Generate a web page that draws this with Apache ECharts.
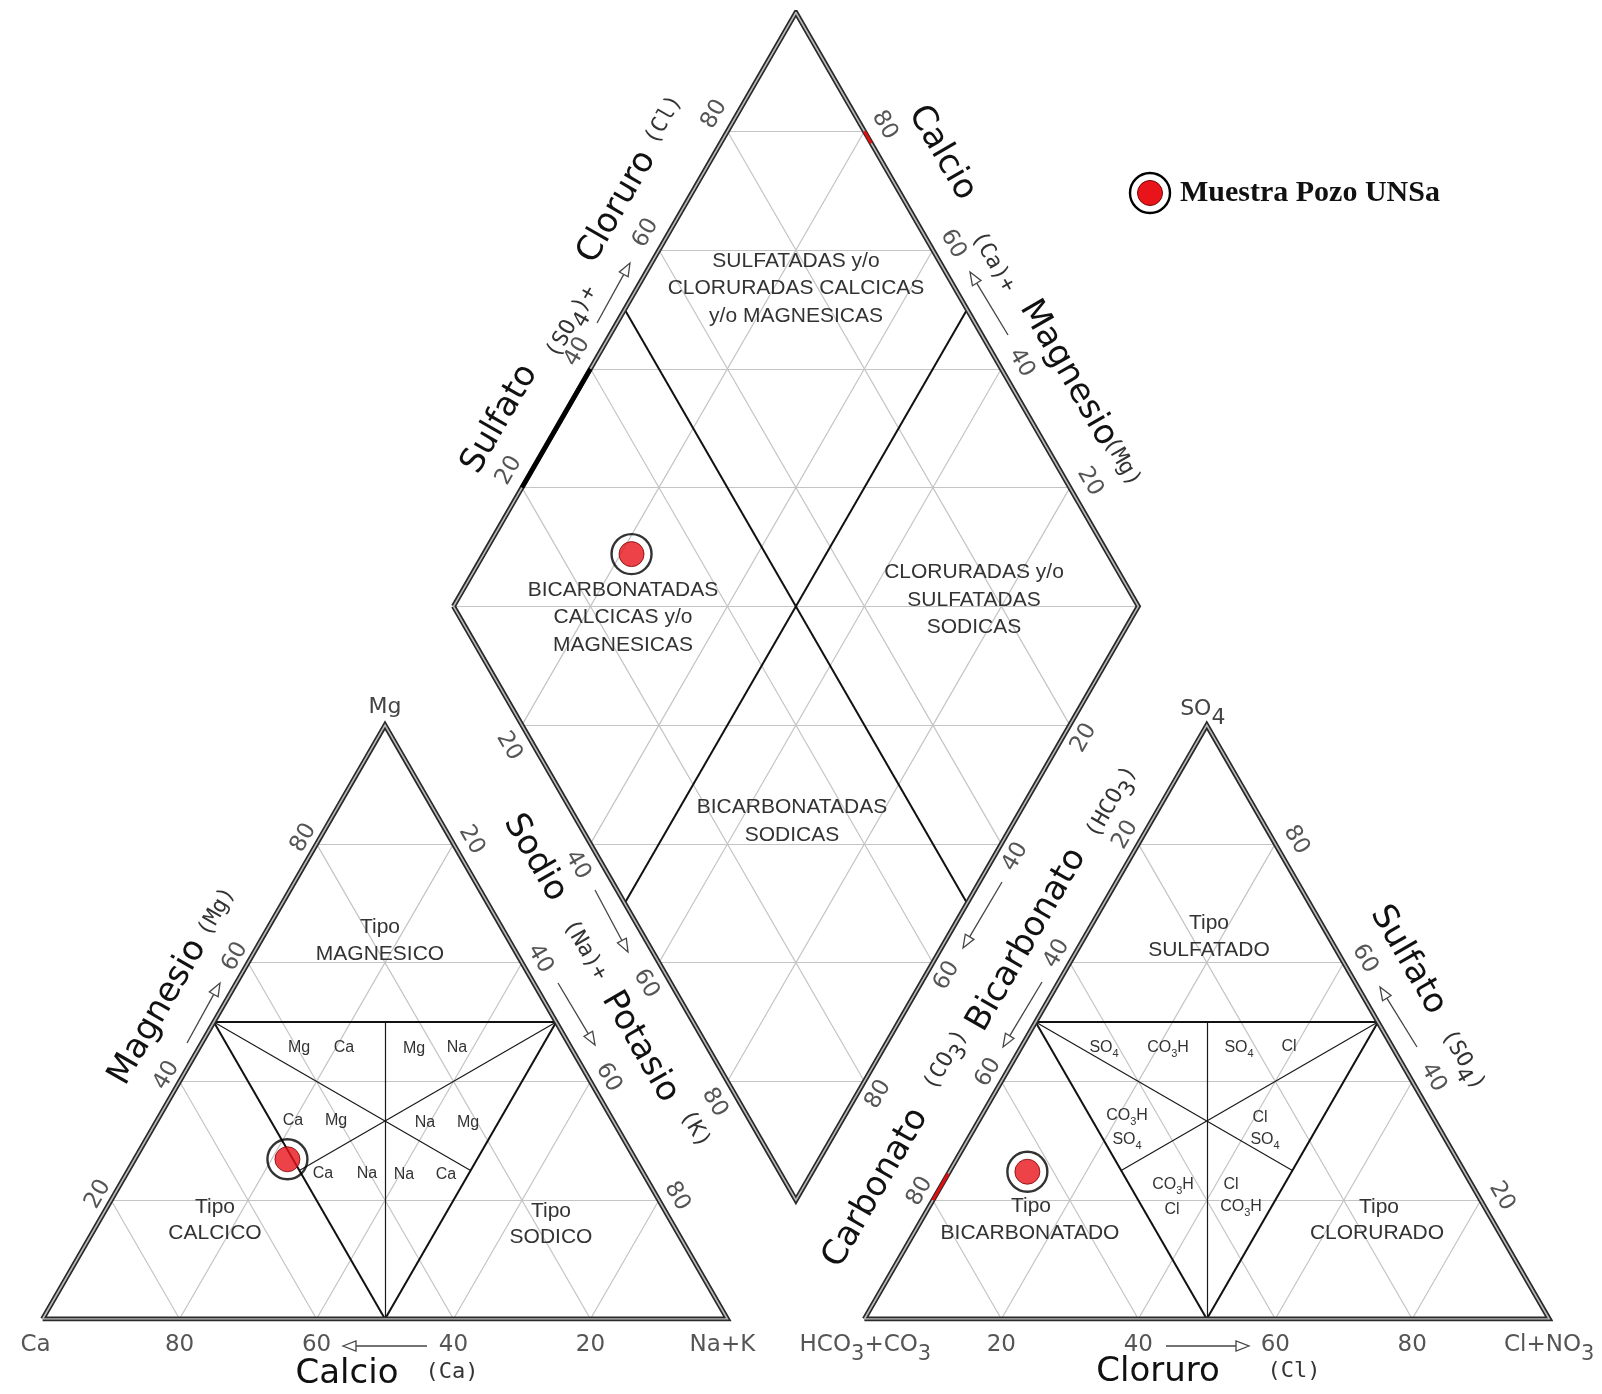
<!DOCTYPE html>
<html>
<head>
<meta charset="utf-8">
<script src="https://cdn.jsdelivr.net/npm/echarts@6/dist/echarts.min.js"></script>
<style>
  html, body { margin: 0; padding: 0; background: #fff; }
  #main { width: 1602px; height: 1394px; }
</style>
</head>
<body>
<div id="main"></div>
<script>
// ---- values ----
var gridTicks = [20, 40, 60, 80];                  // % grid lines in every field
var diamondRows = [-80, -60, -40, -20, 0, 20, 40, 60, 80]; // horizontal rows in the diamond (SO4+Cl - Na+K)
var edgeTicks = [20, 40, 60, 80];
var baseLeft = ['Ca', '80', '60', '40', '20', 'Na+K'];
var baseRight = ['HCO_3+CO_3', '20', '40', '60', '80', 'Cl+NO_3'];

var cationSample = [50.8, 26.9, 22.3];   // Ca, Mg, Na+K  (%)
var anionSample = [63.8, 24.8, 11.4];    // HCO3, SO4, Cl (%)
var diamondSample = [21.6, 30.4];        // Na+K, SO4+Cl  (%)

// ---- piper coordinates (triangle side = 100) ----
var H = Math.sqrt(3) / 2;
function cat(ca, mg, na) { return [na + mg / 2, mg * H]; }
function ani(hco3, so4, cl) { return [120 + cl + so4 / 2, so4 * H]; }
function dia(na, sc) { return [60 + (na + sc) / 2, H * (120 + sc - na)]; }

var gray = [];
gridTicks.forEach(function (k) {
    [cat, ani].forEach(function (f) {
        gray.push([f(100 - k, k, 0), f(0, k, 100 - k)]);
        gray.push([f(100 - k, 0, k), f(0, 100 - k, k)]);
        gray.push([f(k, 0, 100 - k), f(k, 100 - k, 0)]);
    });
    gray.push([dia(k, 0), dia(k, 100)]);
    gray.push([dia(0, k), dia(100, k)]);
});
diamondRows.forEach(function (d) {
    if (d <= 0) gray.push([dia(-d, 0), dia(100, 100 + d)]);
    else gray.push([dia(0, d), dia(100 - d, 100)]);
});

var bold = [], thin = [];
[cat, ani].forEach(function (f) {
    bold.push([f(50, 50, 0), f(0, 50, 50)]);
    bold.push([f(50, 50, 0), f(50, 0, 50)]);
    bold.push([f(0, 50, 50), f(50, 0, 50)]);
    thin.push([f(25, 50, 25), f(50, 0, 50)]);
    thin.push([f(50, 50, 0), f(25, 25, 50)]);
    thin.push([f(0, 50, 50), f(50, 25, 25)]);
});
bold.push([dia(50, 0), dia(50, 100)]);
bold.push([dia(0, 50), dia(100, 50)]);

var borders = [
    [cat(100, 0, 0), cat(0, 0, 100), cat(0, 100, 0), cat(100, 0, 0)],
    [ani(100, 0, 0), ani(0, 0, 100), ani(0, 100, 0), ani(100, 0, 0)],
    [dia(0, 0), dia(0, 100), dia(100, 100), dia(100, 0), dia(0, 0)]
];

function seg(list) { return list.map(function (c) { return { coords: c }; }); }
function lineSeries(list, color, width, z, poly) {
    return {
        type: 'lines', coordinateSystem: 'cartesian2d', polyline: !!poly, silent: true, z: z,
        data: seg(list), lineStyle: { color: color, width: width, opacity: 1 }
    };
}

var chart = echarts.init(document.getElementById('main'));
chart.setOption({
    animation: false,
    grid: { left: 42.6, right: 52.8, top: 12.5, bottom: 75 },
    xAxis: { type: 'value', min: 0, max: 220, show: false },
    yAxis: { type: 'value', min: 0, max: 220 * H, show: false },
    series: [
        lineSeries(gray, '#c4c4c4', 1.2, 1),
        lineSeries(thin, '#1a1a1a', 1.2, 2),
        lineSeries(bold, '#111', 2, 2),
        lineSeries(borders, '#2a2a2a', 5, 3, true),
        lineSeries(borders, '#b8b8b8', 1.6, 4, true),
        lineSeries([[dia(0, 20), dia(0, 40)]], '#000', 4.5, 5),
        lineSeries([[dia(20, 100), dia(22, 100)], [ani(80, 20, 0), ani(75.5, 24.5, 0)]], '#e01010', 3, 5),
        {
            type: 'scatter', symbol: 'circle', symbolSize: 40, z: 10, silent: true,
            itemStyle: { color: 'rgba(0,0,0,0)', borderColor: '#000', borderWidth: 2.4 },
            data: [cat.apply(null, cationSample), ani.apply(null, anionSample), dia.apply(null, diamondSample)]
        },
        {
            type: 'scatter', symbol: 'circle', symbolSize: 25, z: 11, silent: true,
            itemStyle: { color: '#e8141a', borderColor: '#7a0000', borderWidth: 1 },
            data: [cat.apply(null, cationSample), ani.apply(null, anionSample), dia.apply(null, diamondSample)]
        }
    ]
});

// ---- texts ----
var cfg = {
    tick: { fs: 23, fam: 'DejaVu Sans', fill: '#555', sub: 0.9, drop: 10 },
    apex: { fs: 22, fam: 'DejaVu Sans', fill: '#444', sub: 1.0, drop: 9 },
    title: { fs: 34, fam: 'DejaVu Sans', fill: '#111', sub: 0.7, drop: 6 },
    paren: { fs: 22, fam: 'DejaVu Sans Mono', fill: '#333', sub: 1.0, drop: 8 },
    region: { fs: 21, fam: 'Liberation Sans', fill: '#333', sub: 0.7, drop: 5 },
    small: { fs: 16, fam: 'Liberation Sans', fill: '#333', sub: 0.7, drop: 6 }
};
function txt(s, x, y, rot, key, align) {
    var c = cfg[key];
    var L = Math.round(c.fs * 1.2);
    var hs = Math.max(1, L - 2 * c.drop);
    var rich = {
        n: { fontSize: c.fs, fontFamily: c.fam, fill: c.fill, lineHeight: L },
        s: { fontSize: Math.round(c.fs * c.sub), fontFamily: c.fam, fill: c.fill, lineHeight: hs, height: hs, verticalAlign: 'bottom' }
    };
    var t = '';
    s.split(/_(.)/).forEach(function (p, i) { if (p) t += '{' + (i % 2 ? 's' : 'n') + '|' + p + '}'; });
    return {
        type: 'text', x: x, y: y, rotation: rot * Math.PI / 180, z: 100, silent: true,
        style: { text: t, rich: rich, align: align || 'center', verticalAlign: 'middle' }
    };
}
function px(p) { return chart.convertToPixel({ gridIndex: 0 }, p); }

var g = [];
var edges = [
    { f: function (v) { return cat(100 - v, v, 0); }, dx: -13, dy: -6, rot: 60 },
    { f: function (v) { return cat(0, 100 - v, v); }, dx: 18, dy: -4, rot: -60 },
    { f: function (v) { return dia(v, 0); }, dx: -13, dy: 21, rot: -60 },
    { f: function (v) { return dia(0, v); }, dx: -13, dy: -17, rot: 60 },
    { f: function (v) { return dia(100 - v, 100); }, dx: 20, dy: -6, rot: -60 },
    { f: function (v) { return dia(100, 100 - v); }, dx: 14, dy: 13, rot: 60 },
    { f: function (v) { return ani(v, 100 - v, 0); }, dx: -13, dy: -9, rot: 60 },
    { f: function (v) { return ani(0, v, 100 - v); }, dx: 21, dy: -4, rot: -60 }
];
edges.forEach(function (e) {
    edgeTicks.forEach(function (v) {
        var p = px(e.f(v));
        g.push(txt(String(v), p[0] + e.dx, p[1] + e.dy, e.rot, 'tick'));
    });
});
var shiftL = [-7, 0, 0, 0, 0, -5], shiftR = [1, 0, 0, 0, 0, 0];
baseLeft.forEach(function (s, i) {
    var p = px([i * 20, 0]);
    g.push(txt(s, p[0] + shiftL[i], p[1] + 26, 0, 'tick'));
});
baseRight.forEach(function (s, i) {
    var p = px([120 + i * 20, 0]);
    g.push(txt(s, p[0] + shiftR[i], p[1] + 26, 0, 'tick'));
});
var top1 = px(cat(0, 100, 0)), top2 = px(ani(0, 100, 0));
g.push(txt('Mg', top1[0], top1[1] - 18, 0, 'apex'));
g.push(txt('SO_4', top2[0] - 4, top2[1] - 16, 0, 'apex'));

var titles = [
    ['Magnesio', 158, 1012, 60, 'title'], ['(Mg)', 217, 912, 60, 'paren'],
    ['Sodio', 535, 858, -60, 'title'], ['(Na)+', 585, 950, -60, 'paren'],
    ['Potasio', 640, 1047, -60, 'title'], ['(K)', 695, 1129, -60, 'paren'],
    ['Sulfato', 500, 419, 60, 'title'], ['(SO_4)+', 572, 322, 60, 'paren'],
    ['Cloruro', 617, 207, 60, 'title'], ['(Cl)', 664, 120, 60, 'paren'],
    ['Calcio', 942, 153, -60, 'title'], ['(Ca)+', 993, 262, -60, 'paren'],
    ['Magnesio', 1068, 373, -60, 'title'], ['(Mg)', 1122, 462, -60, 'paren'],
    ['Bicarbonato', 1027, 940, 60, 'title'], ['(HCO_3)', 1112, 802, 60, 'paren'],
    ['Carbonato', 876, 1188, 60, 'title'], ['(CO_3)', 946, 1060, 60, 'paren'],
    ['Sulfato', 1408, 960, -60, 'title'], ['(SO_4)', 1463, 1060, -60, 'paren'],
    ['Calcio', 347, 1374, 0, 'title'], ['(Ca)', 452, 1372, 0, 'paren'],
    ['Cloruro', 1158, 1372, 0, 'title'], ['(Cl)', 1294, 1371, 0, 'paren']
];
titles.forEach(function (t) { g.push(txt(t[0], t[1], t[2], t[3], t[4])); });

var regions = [
    ['SULFATADAS y/o', 796, 261], ['CLORURADAS CALCICAS', 796, 288], ['y/o MAGNESICAS', 796, 316],
    ['BICARBONATADAS', 623, 590], ['CALCICAS y/o', 623, 617], ['MAGNESICAS', 623, 645],
    ['CLORURADAS y/o', 974, 572], ['SULFATADAS', 974, 600], ['SODICAS', 974, 627],
    ['BICARBONATADAS', 792, 807], ['SODICAS', 792, 835],
    ['Tipo', 380, 927], ['MAGNESICO', 380, 954],
    ['Tipo', 215, 1207], ['CALCICO', 215, 1233],
    ['Tipo', 551, 1211], ['SODICO', 551, 1237],
    ['Tipo', 1209, 923], ['SULFATADO', 1209, 950],
    ['Tipo', 1031, 1206], ['BICARBONATADO', 1030, 1233],
    ['Tipo', 1379, 1207], ['CLORURADO', 1377, 1233]
];
regions.forEach(function (t) { g.push(txt(t[0], t[1], t[2], 0, 'region')); });

var smalls = [
    ['Mg', 299, 1048], ['Ca', 344, 1048], ['Mg', 414, 1049], ['Na', 457, 1048],
    ['Ca', 293, 1121], ['Mg', 336, 1121], ['Na', 425, 1123], ['Mg', 468, 1123],
    ['Ca', 323, 1174], ['Na', 367, 1174], ['Na', 404, 1175], ['Ca', 446, 1175],
    ['SO_4', 1104, 1048], ['CO_3H', 1168, 1048], ['SO_4', 1239, 1048], ['Cl', 1289, 1047],
    ['CO_3H', 1127, 1116], ['SO_4', 1127, 1140], ['Cl', 1260, 1118], ['SO_4', 1265, 1140],
    ['CO_3H', 1173, 1185], ['Cl', 1172, 1210], ['Cl', 1231, 1185], ['CO_3H', 1241, 1207]
];
smalls.forEach(function (t) { g.push(txt(t[0], t[1], t[2], 0, 'small')); });

// direction arrows beside the axis names
var arrows = [
    [[427, 1346], [343, 1346]], [[1166, 1346], [1249, 1346]],
    [[187, 1043], [220, 983]],
    [[595, 890], [628, 952]], [[558, 983], [595, 1045]],
    [[597, 323], [630, 263]], [[1008, 335], [970, 272]],
    [[1002, 882], [963, 948]], [[1042, 982], [1003, 1047]],
    [[1417, 1047], [1380, 987]]
];
arrows.forEach(function (a) {
    var t = a[0], h = a[1];
    var dx = h[0] - t[0], dy = h[1] - t[1], len = Math.sqrt(dx * dx + dy * dy);
    var ux = dx / len, uy = dy / len, nx = -uy, ny = ux;
    var bx = h[0] - ux * 13, by = h[1] - uy * 13;
    g.push({ type: 'polyline', z: 100, silent: true, shape: { points: [t, [bx, by]] }, style: { stroke: '#444', lineWidth: 1.3 } });
    g.push({
        type: 'polygon', z: 100, silent: true,
        shape: { points: [h, [bx + nx * 5, by + ny * 5], [bx - nx * 5, by - ny * 5]] },
        style: { fill: '#fff', stroke: '#444', lineWidth: 1.3 }
    });
});

// legend
g.push({ type: 'circle', z: 100, silent: true, shape: { cx: 1150, cy: 193, r: 20 }, style: { fill: '#fff', stroke: '#000', lineWidth: 2.4 } });
g.push({ type: 'circle', z: 101, silent: true, shape: { cx: 1150, cy: 193, r: 12.5 }, style: { fill: '#e8141a', stroke: '#7a0000', lineWidth: 1 } });
g.push({
    type: 'text', z: 101, silent: true, x: 1180, y: 193,
    style: { text: 'Muestra Pozo UNSa', font: 'bold 30px "Liberation Serif"', fill: '#111', align: 'left', verticalAlign: 'middle' }
});

chart.setOption({ graphic: g });
</script>
</body>
</html>
